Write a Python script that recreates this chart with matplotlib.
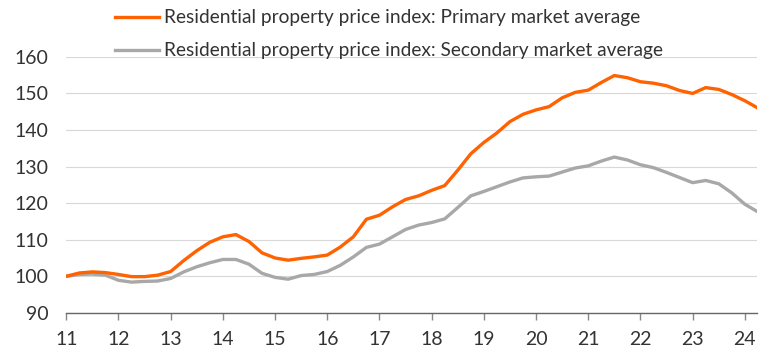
import numpy as np
import matplotlib
matplotlib.use("Agg")
import matplotlib.pyplot as plt

# --- Dane (kwartalnie) ---
years = np.arange(11.0, 24.26, 0.25)
primary = [100.0, 100.9, 101.2, 101.0, 100.5, 99.9, 99.9, 100.3,
           101.3, 104.3, 107.0, 109.3, 110.8, 111.4, 109.5, 106.4,
           105.0, 104.4, 104.9, 105.3, 105.8, 108.0, 110.8, 115.6,
           116.7, 119.0, 121.0, 122.0, 123.5, 124.8, 129.0, 133.5,
           136.6, 139.2, 142.3, 144.3, 145.5, 146.4, 148.8, 150.3,
           150.9, 153.0, 154.9, 154.3, 153.2, 152.8, 152.1, 150.8,
           150.0, 151.6, 151.1, 149.7, 148.0, 146.0]
secondary = [100.0, 100.5, 100.6, 100.3, 98.9, 98.4, 98.6, 98.7,
             99.4, 101.2, 102.6, 103.7, 104.6, 104.6, 103.3, 100.8,
             99.7, 99.2, 100.2, 100.5, 101.3, 103.0, 105.3, 107.9,
             108.8, 110.8, 112.8, 114.0, 114.7, 115.7, 118.8, 122.0,
             123.2, 124.5, 125.8, 126.9, 127.2, 127.4, 128.5, 129.6,
             130.2, 131.5, 132.6, 131.8, 130.5, 129.7, 128.4, 127.0,
             125.6, 126.2, 125.3, 122.8, 119.7, 117.6]
labels = ["Residential property price index: Primary market average",
          "Residential property price index: Secondary market average"]
xticks = list(range(11, 25))
yticks = list(range(90, 161, 10))

ORANGE = "#FF6200"
GREY = "#A8A8A8"
TEXT = "#333333"

plt.rcParams['font.family'] = ['Lato', 'DejaVu Sans']

fig = plt.figure(figsize=(7.8, 3.6), dpi=100)
ax = fig.add_axes([0.085, 0.131, 0.886, 0.711])

ax.plot(years[:len(secondary)], secondary, color=GREY, lw=2.4, label=labels[1], zorder=3)
ax.plot(years[:len(primary)], primary, color=ORANGE, lw=2.4, label=labels[0], zorder=4)

ax.set_xlim(11, 24.24)
ax.set_ylim(90, 160)
ax.set_xticks(xticks)
ax.set_yticks(yticks)
ax.grid(axis='y', color='#d8d8d8', lw=0.8)
ax.set_axisbelow(True)
for s in ['top', 'right', 'left']:
    ax.spines[s].set_visible(False)
ax.spines['bottom'].set_color('#666666')
ax.spines['bottom'].set_linewidth(1.0)
ax.tick_params(axis='x', direction='out', length=5, width=1, color='#888888',
               labelsize=14, labelcolor=TEXT, pad=8)
ax.tick_params(axis='y', length=0, labelsize=14, labelcolor=TEXT, pad=13)

h, l = ax.get_legend_handles_labels()
leg = fig.legend([h[1], h[0]], [l[1], l[0]], loc='upper left',
                 bbox_to_anchor=(0.147, 0.974), frameon=False, fontsize=13.8,
                 handlelength=2.3, handletextpad=0.3, labelspacing=0.83,
                 borderaxespad=0, borderpad=0)
for t in leg.get_texts():
    t.set_color(TEXT)

fig.savefig("out.png", dpi=100)
